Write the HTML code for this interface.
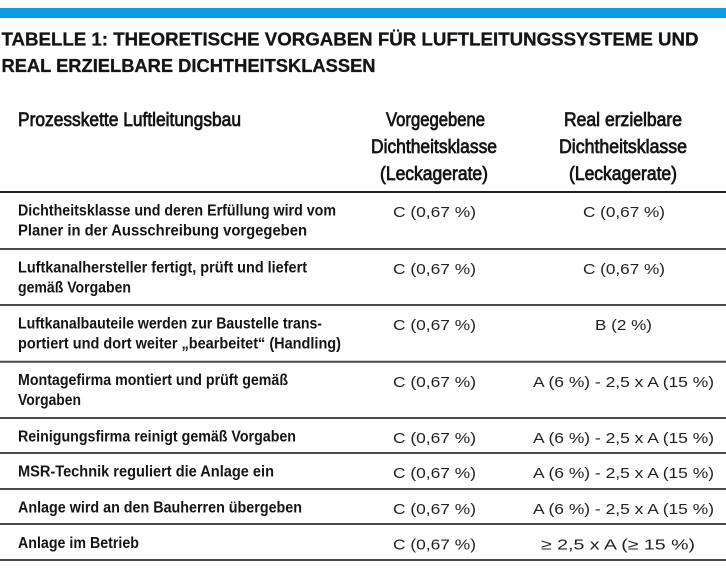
<!DOCTYPE html>
<html>
<head>
<meta charset="utf-8">
<style>
html,body{margin:0;padding:0;background:#fff;}
svg{display:block;}
.t{font-family:"Liberation Sans",Arial,sans-serif;font-weight:bold;font-size:18.5px;fill:#151515;stroke:#151515;stroke-width:0.3;}
.h{font-family:"Liberation Sans",Arial,sans-serif;font-weight:normal;font-size:19px;fill:#151515;stroke:#151515;stroke-width:0.75;}
.l{font-family:"Liberation Sans",Arial,sans-serif;font-weight:bold;font-size:15.5px;fill:#151515;}
.v{font-family:"Liberation Sans","DejaVu Sans",Arial,sans-serif;font-weight:normal;font-size:15px;fill:#222;}
</style>
</head>
<body>
<svg width="726" height="572" viewBox="0 0 726 572" xmlns="http://www.w3.org/2000/svg">
<rect x="0" y="0" width="726" height="572" fill="#fff"/>
<rect x="0" y="8" width="726" height="10" fill="#0a9ddf"/>

<text class="t" x="1.5" y="45.5" textLength="697" lengthAdjust="spacingAndGlyphs">TABELLE 1: THEORETISCHE VORGABEN FÜR LUFTLEITUNGSSYSTEME UND</text>
<text class="t" x="1.5" y="72" textLength="374" lengthAdjust="spacingAndGlyphs">REAL ERZIELBARE DICHTHEITSKLASSEN</text>

<text class="h" x="18" y="126" textLength="223" lengthAdjust="spacingAndGlyphs">Prozesskette Luftleitungsbau</text>
<text class="h" x="386" y="126" textLength="99" lengthAdjust="spacingAndGlyphs">Vorgegebene</text>
<text class="h" x="371" y="153" textLength="126" lengthAdjust="spacingAndGlyphs">Dichtheitsklasse</text>
<text class="h" x="380" y="180" textLength="108" lengthAdjust="spacingAndGlyphs">(Leckagerate)</text>
<text class="h" x="564" y="126" textLength="118" lengthAdjust="spacingAndGlyphs">Real erzielbare</text>
<text class="h" x="559" y="153" textLength="128" lengthAdjust="spacingAndGlyphs">Dichtheitsklasse</text>
<text class="h" x="569" y="180" textLength="108" lengthAdjust="spacingAndGlyphs">(Leckagerate)</text>

<line x1="0" y1="192" x2="726" y2="192" stroke="#222" stroke-width="2"/>
<line x1="0" y1="249" x2="726" y2="249" stroke="#4a4a4a" stroke-width="2"/>
<line x1="0" y1="305" x2="726" y2="305" stroke="#4a4a4a" stroke-width="2"/>
<line x1="0" y1="361.7" x2="726" y2="361.7" stroke="#4a4a4a" stroke-width="2"/>
<line x1="0" y1="418" x2="726" y2="418" stroke="#4a4a4a" stroke-width="2"/>
<line x1="0" y1="453" x2="726" y2="453" stroke="#4a4a4a" stroke-width="2"/>
<line x1="0" y1="489" x2="726" y2="489" stroke="#4a4a4a" stroke-width="2"/>
<line x1="0" y1="524" x2="726" y2="524" stroke="#4a4a4a" stroke-width="2"/>
<line x1="0" y1="560" x2="726" y2="560" stroke="#4a4a4a" stroke-width="2"/>

<!-- Row 1 -->
<text class="l" x="18" y="215.5" textLength="318" lengthAdjust="spacingAndGlyphs">Dichtheitsklasse und deren Erfüllung wird vom</text>
<text class="l" x="18" y="235.5" textLength="289" lengthAdjust="spacingAndGlyphs">Planer in der Ausschreibung vorgegeben</text>
<text class="v" x="393" y="217" textLength="83" lengthAdjust="spacingAndGlyphs">C (0,67 %)</text>
<text class="v" x="583" y="217" textLength="82" lengthAdjust="spacingAndGlyphs">C (0,67 %)</text>

<!-- Row 2 -->
<text class="l" x="18" y="272.5" textLength="289" lengthAdjust="spacingAndGlyphs">Luftkanalhersteller fertigt, prüft und liefert</text>
<text class="l" x="18" y="292.5" textLength="113" lengthAdjust="spacingAndGlyphs">gemäß Vorgaben</text>
<text class="v" x="393" y="274" textLength="83" lengthAdjust="spacingAndGlyphs">C (0,67 %)</text>
<text class="v" x="583" y="274" textLength="82" lengthAdjust="spacingAndGlyphs">C (0,67 %)</text>

<!-- Row 3 -->
<text class="l" x="18" y="328.5" textLength="304" lengthAdjust="spacingAndGlyphs">Luftkanalbauteile werden zur Baustelle trans-</text>
<text class="l" x="18" y="348.5" textLength="323" lengthAdjust="spacingAndGlyphs">portiert und dort weiter „bearbeitet“ (Handling)</text>
<text class="v" x="393" y="330" textLength="83" lengthAdjust="spacingAndGlyphs">C (0,67 %)</text>
<text class="v" x="595" y="330" textLength="57" lengthAdjust="spacingAndGlyphs">B (2 %)</text>

<!-- Row 4 -->
<text class="l" x="18" y="385" textLength="270" lengthAdjust="spacingAndGlyphs">Montagefirma montiert und prüft gemäß</text>
<text class="l" x="18" y="405" textLength="63" lengthAdjust="spacingAndGlyphs">Vorgaben</text>
<text class="v" x="393" y="387" textLength="83" lengthAdjust="spacingAndGlyphs">C (0,67 %)</text>
<text class="v" x="533" y="387" textLength="181" lengthAdjust="spacingAndGlyphs">A (6 %) - 2,5 x A (15 %)</text>

<!-- Row 5 -->
<text class="l" x="18" y="441.5" textLength="278" lengthAdjust="spacingAndGlyphs">Reinigungsfirma reinigt gemäß Vorgaben</text>
<text class="v" x="393" y="443" textLength="83" lengthAdjust="spacingAndGlyphs">C (0,67 %)</text>
<text class="v" x="533" y="443" textLength="181" lengthAdjust="spacingAndGlyphs">A (6 %) - 2,5 x A (15 %)</text>

<!-- Row 6 -->
<text class="l" x="18" y="476.5" textLength="256" lengthAdjust="spacingAndGlyphs">MSR-Technik reguliert die Anlage ein</text>
<text class="v" x="393" y="478" textLength="83" lengthAdjust="spacingAndGlyphs">C (0,67 %)</text>
<text class="v" x="533" y="478" textLength="181" lengthAdjust="spacingAndGlyphs">A (6 %) - 2,5 x A (15 %)</text>

<!-- Row 7 -->
<text class="l" x="18" y="512.5" textLength="284" lengthAdjust="spacingAndGlyphs">Anlage wird an den Bauherren übergeben</text>
<text class="v" x="393" y="514" textLength="83" lengthAdjust="spacingAndGlyphs">C (0,67 %)</text>
<text class="v" x="533" y="514" textLength="181" lengthAdjust="spacingAndGlyphs">A (6 %) - 2,5 x A (15 %)</text>

<!-- Row 8 -->
<text class="l" x="18" y="548" textLength="121" lengthAdjust="spacingAndGlyphs">Anlage im Betrieb</text>
<text class="v" x="393" y="549.5" textLength="83" lengthAdjust="spacingAndGlyphs">C (0,67 %)</text>
<text class="v" x="541" y="549.5" textLength="154" lengthAdjust="spacingAndGlyphs">≥ 2,5 x A (≥ 15 %)</text>
</svg>
</body>
</html>
